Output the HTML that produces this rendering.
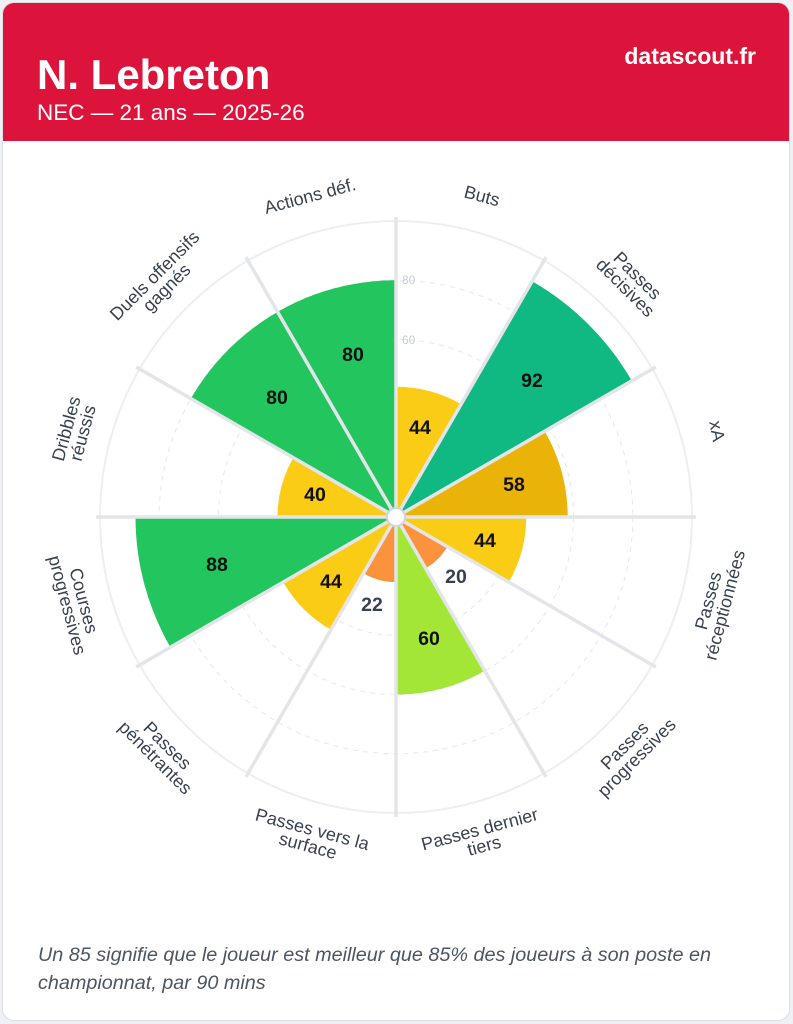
<!DOCTYPE html>
<html><head><meta charset="utf-8">
<style>
html,body{margin:0;padding:0;background:#eef0f4;}
body{width:793px;height:1024px;overflow:hidden;font-family:"Liberation Sans",Arial,sans-serif;}
.card{position:absolute;left:2px;top:2px;width:786px;height:1017px;background:#fff;border:1px solid #dcdfe6;border-radius:12px;overflow:hidden;}
.hdr{position:absolute;left:0;top:0;width:786px;height:138px;background:#dc143c;}
.t{position:absolute;left:34px;top:48px;color:#fff;font-weight:bold;font-size:42px;line-height:48px;}
.s{position:absolute;left:34px;top:97px;color:#fff;font-size:22.5px;}
.b{position:absolute;right:33px;top:40px;color:#fff;font-weight:bold;font-size:23px;}
.f{position:absolute;left:35px;top:938px;width:715px;color:#4b5563;font-style:italic;font-size:19.8px;line-height:28px;}
svg{position:absolute;left:0;top:0;}
</style></head><body>
<div class="card">
<div class="hdr"><div class="t">N. Lebreton</div><div class="s">NEC — 21 ans — 2025-26</div><div class="b">datascout.fr</div></div>
<div class="f">Un 85 signifie que le joueur est meilleur que 85% des joueurs à son poste en championnat, par 90 mins</div>
</div>
<svg width="793" height="1024" viewBox="0 0 793 1024">
<g id="grid"></g>
<text x="402" y="284" font-size="12" fill="#c8ccd2">80</text>
<text x="402" y="344" font-size="12" fill="#c8ccd2">60</text>
<g id="bars"></g>
<g id="lines"></g>
<circle cx="396" cy="517" r="9" fill="#fff" stroke="#d1d5db" stroke-width="2"/>
<g font-size="19.5" font-weight="bold" text-anchor="middle" dominant-baseline="central" fill="#111">
<text x="420" y="428">44</text><text x="532" y="381">92</text><text x="514" y="485">58</text>
<text x="485" y="541">44</text><text x="456" y="577" fill="#374151">20</text><text x="429" y="639">60</text>
<text x="372" y="605" fill="#374151">22</text><text x="331" y="582">44</text><text x="217" y="565">88</text>
<text x="315" y="495">40</text><text x="277" y="398">80</text><text x="353" y="355">80</text>
</g>
<g font-size="18" fill="#374151" text-anchor="middle">
<text transform="translate(482,196) rotate(15)" y="6">Buts</text>
<text transform="translate(631,282) rotate(45)"><tspan x="0" y="-3">Passes</tspan><tspan x="0" y="14">décisives</tspan></text>
<text transform="translate(717,431) rotate(80)" y="6">xA</text>
<text transform="translate(717,603) rotate(-75)"><tspan x="0" y="-3">Passes</tspan><tspan x="0" y="14">réceptionnées</tspan></text>
<text transform="translate(631,752) rotate(-45)"><tspan x="0" y="-3">Passes</tspan><tspan x="0" y="14">progressives</tspan></text>
<text transform="translate(482,838) rotate(-15)"><tspan x="0" y="-3">Passes dernier</tspan><tspan x="0" y="14">tiers</tspan></text>
<text transform="translate(310,838) rotate(15)"><tspan x="0" y="-3">Passes vers la</tspan><tspan x="0" y="14">surface</tspan></text>
<text transform="translate(161,752) rotate(45)"><tspan x="0" y="-3">Passes</tspan><tspan x="0" y="14">pénétrantes</tspan></text>
<text transform="translate(75,603) rotate(75)"><tspan x="0" y="-3">Courses</tspan><tspan x="0" y="14">progressives</tspan></text>
<text transform="translate(75,431) rotate(-75)"><tspan x="0" y="-3">Dribbles</tspan><tspan x="0" y="14">réussis</tspan></text>
<text transform="translate(161,282) rotate(-45)"><tspan x="0" y="-3">Duels offensifs</tspan><tspan x="0" y="14">gagnés</tspan></text>
<text transform="translate(310,196) rotate(-15)" y="6">Actions déf.</text>
</g>
</svg>
<script>
var cx=396,cy=517,k=2.96,NS="http://www.w3.org/2000/svg";
var vals=[44,92,58,44,20,60,22,44,88,40,80,80];
var cols=["#facc15","#10b981","#eab308","#facc15","#fb923c","#a3e635","#fb923c","#facc15","#22c55e","#facc15","#22c55e","#22c55e"];
function P(r,a){a=a*Math.PI/180;return [(cx+r*Math.sin(a)).toFixed(1),(cy-r*Math.cos(a)).toFixed(1)];}
function el(t,at,p){var e=document.createElementNS(NS,t);for(var q in at)e.setAttribute(q,at[q]);document.getElementById(p).appendChild(e);}
[20,40,60,80].forEach(function(v){el("circle",{cx:cx,cy:cy,r:v*k,fill:"none",stroke:"#e5e7eb","stroke-dasharray":"5,5","stroke-width":1},"grid");});
el("circle",{cx:cx,cy:cy,r:100*k,fill:"none",stroke:"#eceef1","stroke-width":2},"grid");
vals.forEach(function(v,i){var r=v*k,a=P(r,i*30),b=P(r,i*30+30);
el("path",{d:"M"+cx+","+cy+"L"+a+"A"+r+","+r+" 0 0 1 "+b+"Z",fill:cols[i]},"bars");});
for(var i=0;i<12;i++){var p=P(300,i*30);el("line",{x1:cx,y1:cy,x2:p[0],y2:p[1],stroke:"#e3e5ea","stroke-width":3.5},"lines");}
</script>
</body></html>
